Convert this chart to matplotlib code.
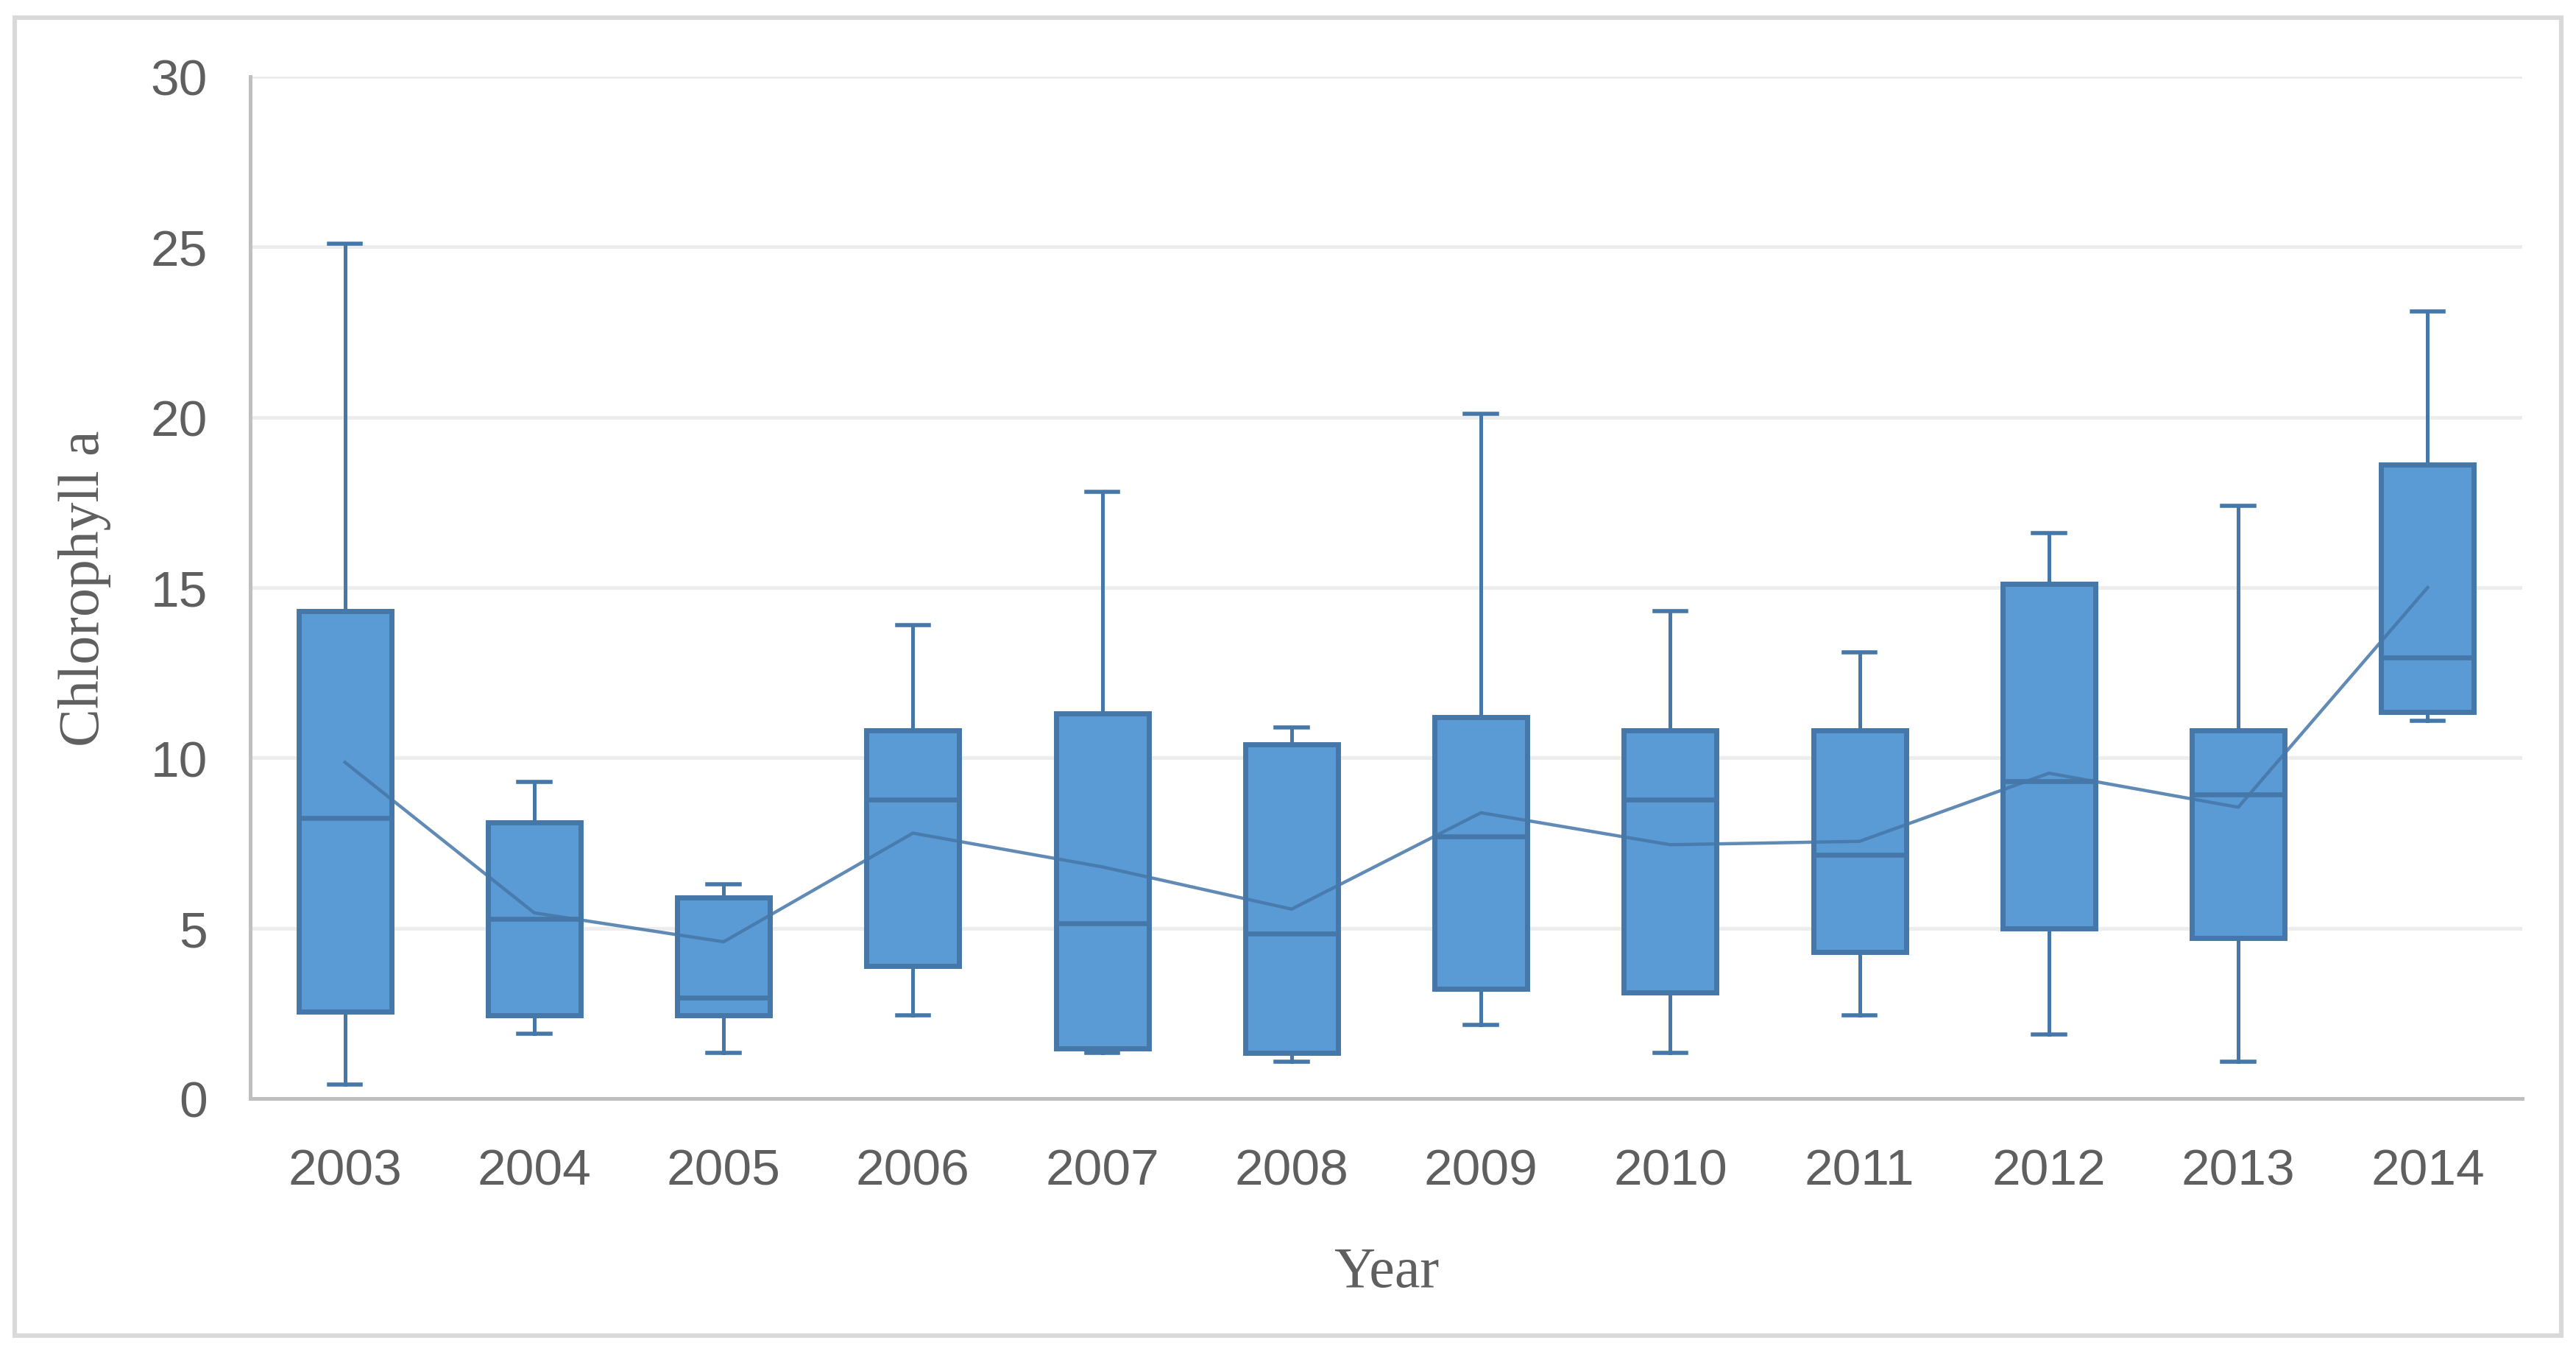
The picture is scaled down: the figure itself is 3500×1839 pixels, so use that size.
import numpy as np
import matplotlib
matplotlib.use("Agg")
import matplotlib.pyplot as plt
from matplotlib.patches import Rectangle

# data
years = ["2003", "2004", "2005", "2006", "2007", "2008",
         "2009", "2010", "2011", "2012", "2013", "2014"]
whis_hi = [25.1, 9.3, 6.3, 13.9, 17.8, 10.9, 20.1, 14.3, 13.1, 16.6, 17.4, 23.1]
q3 = [14.3, 8.1, 5.9, 10.8, 11.3, 10.4, 11.2, 10.8, 10.8, 15.1, 10.8, 18.6]
med = [8.24, 5.27, 2.97, 8.77, 5.15, 4.85, 7.69, 8.77, 7.16, 9.32, 8.92, 12.95]
q1 = [2.56, 2.44, 2.44, 3.9, 1.47, 1.35, 3.23, 3.11, 4.31, 5.0, 4.71, 11.35]
whis_lo = [0.40, 1.90, 1.35, 2.44, 1.35, 1.08, 2.16, 1.35, 2.44, 1.89, 1.08, 11.08]
means = [9.87, 5.45, 4.6, 7.79, 6.8, 5.56, 8.39, 7.45, 7.55, 9.55, 8.55, 15.0]

FILL = "#5B9BD5"
EDGE = "#4577A8"
GRID = "#EDEDED"
SPINE = "#BFBFBF"
TXT = "#5F5F5F"

stats = []
for i in range(len(years)):
    stats.append(dict(label=years[i], med=med[i], q1=q1[i], q3=q3[i],
                      whislo=whis_lo[i], whishi=whis_hi[i], mean=means[i], fliers=[]))

fig = plt.figure(figsize=(17.5, 9.2), dpi=200)
ax = fig.add_axes([340 / 3500, 1 - 1493 / 1840, 3087 / 3500, 1388 / 1840])

pos = np.arange(1, len(years) + 1)
ax.bxp(stats, positions=pos, widths=0.49, capwidths=0.17, patch_artist=True,
       showmeans=False, showfliers=False,
       boxprops=dict(facecolor=FILL, edgecolor=EDGE, linewidth=2.5),
       medianprops=dict(color=EDGE, linewidth=2.4),
       whiskerprops=dict(color=EDGE, linewidth=1.8),
       capprops=dict(color=EDGE, linewidth=2.0),
       zorder=3)

# mean line
ax.plot(pos, means, color=EDGE, linewidth=1.6, alpha=0.85, zorder=4)

ax.set_xlim(0.5, len(years) + 0.5)
ax.set_ylim(0, 30)
ax.set_yticks(np.arange(0, 31, 5))
ax.set_xticks(pos)
ax.set_xticklabels(years)

ax.grid(axis="y", color=GRID, linewidth=1.8, zorder=0)
ax.set_axisbelow(True)
for s in ["top", "right"]:
    ax.spines[s].set_visible(False)
for s in ["left", "bottom"]:
    ax.spines[s].set_color(SPINE)
    ax.spines[s].set_linewidth(1.8)

ax.tick_params(axis="both", length=0, labelsize=25, labelcolor=TXT)
ax.tick_params(axis="x", pad=24)
ax.tick_params(axis="y", pad=21)
for lab in ax.get_xticklabels() + ax.get_yticklabels():
    lab.set_family("Liberation Sans")

ax.set_xlabel("Year", family="Liberation Serif", fontsize=28, color=TXT, va="center")
ax.xaxis.set_label_coords(0.5, -0.17)
ax.set_ylabel("Chlorophyll a", family="Liberation Serif", fontsize=28, color=TXT, va="center")
ax.yaxis.set_label_coords(-0.073, 0.5)

# outer frame
fig.patches.append(Rectangle((20 / 3500, 1 - 1815 / 1840), 3460 / 3500, 1790 / 1840,
                             fill=False, edgecolor="#D9D9D9", linewidth=2.2,
                             transform=fig.transFigure, figure=fig))

fig.savefig("out.png", dpi=200, facecolor="white")
